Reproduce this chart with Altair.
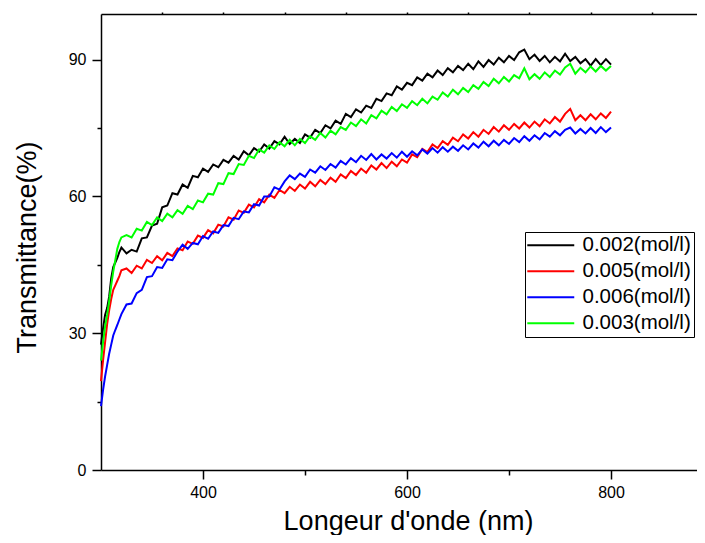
import altair as alt
import pandas as pd

wavelength = [300, 302, 304, 306, 308, 310, 312, 314, 316, 318, 320,
              325, 330, 335, 340, 345, 350, 355, 360, 365, 370, 375, 380, 385, 390, 395,
              400, 405, 410, 415, 420, 425, 430, 435, 440, 445, 450, 455, 460, 465, 470,
              475, 480, 485, 490, 495, 500, 505, 510, 515, 520, 525, 530, 535, 540, 545,
              550, 555, 560, 565, 570, 575, 580, 585, 590, 595, 600, 605, 610, 615, 620,
              625, 630, 635, 640, 645, 650, 655, 660, 665, 670, 675, 680, 685, 690, 695,
              700, 705, 710, 715, 720, 725, 730, 735, 740, 745, 750, 755, 760, 765, 770,
              775, 780, 785, 790, 795, 800]

t_0002 = [27.5, 31, 34, 35.5, 38, 42, 44.5, 45.5, 46.5, 47.8, 48.8,
          47.5, 48.3, 47.9, 50.8, 51.0, 53.6, 54.0, 57.6, 58.0, 60.7, 60.4, 62.6, 61.9, 64.5, 64.2,
          66.1, 65.4, 67.0, 66.4, 68.0, 67.4, 68.9, 68.1, 69.9, 69.0, 70.6, 69.8, 71.4, 70.5, 72.1,
          71.4, 73.1, 71.5, 72.6, 71.7, 73.6, 72.9, 74.6, 73.9, 75.6, 74.9, 76.6, 75.9, 78.1, 77.4,
          79.1, 78.4, 79.9, 79.4, 81.4, 80.9, 82.6, 82.2, 84.1, 83.4, 84.9, 84.4, 86.1, 85.4, 86.9,
          86.1, 87.6, 86.6, 88.1, 87.2, 88.6, 87.7, 89.1, 87.9, 89.6, 88.4, 89.9, 88.9, 90.4, 89.4,
          90.8, 89.9, 91.6, 92.2, 90.1, 91.1, 89.7, 90.8, 89.4, 90.6, 89.6, 91.3, 89.7, 90.6, 89.2,
          90.1, 88.7, 90.1, 88.8, 90.1, 88.9]

t_0005 = [19.5, 24, 28, 32, 35, 37.5, 39.5, 40.5, 41.5, 42.5, 43.8,
          44.2, 43.2, 44.8, 44.2, 46.1, 45.4, 46.9, 46.0, 47.6, 46.9, 48.6, 48.2, 50.1, 49.6, 51.4,
          50.9, 52.6, 51.9, 53.8, 53.4, 55.4, 54.9, 56.9, 56.4, 58.2, 57.6, 59.4, 58.7, 60.4, 59.7,
          61.4, 60.7, 62.1, 61.2, 62.6, 61.7, 63.2, 62.2, 63.6, 62.7, 64.1, 63.2, 64.8, 64.0, 65.6,
          64.7, 66.1, 65.2, 66.8, 65.9, 67.3, 66.2, 67.6, 66.6, 68.1, 67.4, 69.2, 68.6, 70.4, 69.7,
          71.4, 70.6, 72.1, 71.3, 72.9, 72.1, 73.6, 72.7, 74.1, 73.1, 74.6, 73.7, 75.2, 74.2, 75.6,
          74.6, 75.9, 74.9, 76.2, 75.1, 76.4, 75.4, 76.9, 76.0, 77.4, 76.4, 78.1, 79.2, 76.7, 77.8,
          76.7, 78.0, 76.9, 78.2, 77.2, 78.6]

t_0006 = [14, 17.5, 20.5, 23, 25.5, 27.5, 29.5, 30.7, 31.8, 33, 34.2,
          36.3, 36.5, 38.8, 39.5, 42.3, 42.5, 44.5, 44.3, 46.2, 46.0, 47.9, 49.4, 48.5, 49.8, 49.5,
          51.3, 50.7, 52.3, 52.0, 53.7, 53.5, 55.3, 55.0, 56.7, 56.5, 58.3, 58.0, 60.0, 60.0, 62.0,
          61.5, 63.3, 64.6, 63.8, 65.0, 64.3, 65.9, 65.2, 66.6, 65.8, 67.1, 66.3, 67.8, 67.0, 68.4,
          67.5, 68.9, 68.0, 69.3, 68.1, 69.2, 68.3, 69.5, 68.5, 69.8, 68.7, 69.9, 69.0, 70.3, 69.4,
          70.6, 69.6, 70.8, 69.8, 70.9, 70.0, 71.2, 70.3, 71.6, 70.7, 72.0, 71.0, 72.2, 71.2, 72.4,
          71.5, 72.8, 71.9, 73.2, 72.2, 73.4, 72.5, 73.9, 73.1, 74.3, 73.4, 74.6, 75.1, 73.8, 74.8,
          73.8, 75.0, 73.9, 75.2, 74.1, 75.1]

t_0003 = [24, 28, 31.5, 34, 37, 40.5, 43.5, 46, 48.5, 50, 51,
          51.5, 51.0, 52.9, 52.5, 54.4, 53.7, 55.4, 54.6, 56.2, 55.4, 57.0, 56.2, 57.9, 57.2, 59.1,
          58.7, 60.6, 60.4, 62.9, 62.7, 65.1, 64.9, 67.1, 66.9, 68.9, 68.4, 70.3, 69.6, 71.2, 70.4,
          71.9, 71.0, 72.4, 71.2, 72.6, 71.7, 73.2, 72.4, 73.9, 72.9, 74.4, 73.6, 75.2, 74.6, 76.2,
          75.4, 76.9, 76.0, 77.8, 77.1, 78.8, 78.0, 79.6, 78.7, 80.2, 79.4, 80.9, 80.0, 81.4, 80.4,
          81.9, 81.2, 82.8, 81.9, 83.4, 82.4, 83.8, 82.9, 84.4, 83.6, 85.1, 84.2, 85.8, 84.8, 86.2,
          85.2, 86.6, 85.9, 88.1, 85.7, 86.8, 85.8, 87.2, 86.2, 87.6, 86.7, 88.3, 89.1, 86.9, 88.2,
          87.2, 88.5, 87.4, 88.6, 87.6, 88.6]

series_labels = ["0.002(mol/l)", "0.005(mol/l)", "0.006(mol/l)", "0.003(mol/l)"]
series_colors = ["#000000", "#ff0000", "#0000ff", "#00ff00"]
series_values = [t_0002, t_0005, t_0006, t_0003]

x_ticks = [400, 500, 600, 700, 800]
y_ticks = [0, 15, 30, 45, 60, 75, 90]
top_ticks = [360, 420, 480, 540, 600, 660, 720, 780, 840]

rows = []
for lab, vals in zip(series_labels, series_values):
    for w, v in zip(wavelength, vals):
        rows.append({"wl": w, "T": v, "series": lab})
df = pd.DataFrame(rows)

FONT = "Liberation Sans"
x_scale = alt.Scale(domain=[300, 884.3], nice=False, zero=False)
y_scale = alt.Scale(domain=[0, 100], nice=False, zero=False)

lines = alt.Chart(df).mark_line(strokeWidth=2).encode(
    x=alt.X("wl:Q", scale=x_scale,
            axis=alt.Axis(values=x_ticks, title="Longeur d'onde (nm)",
                          tickSize={"condition": {"test": "datum.value % 200 === 0", "value": 9}, "value": 5},
                          labelExpr="datum.value % 200 === 0 ? datum.label : ''",
                          labelPadding=5, titleX=307, titleY=59, titleAlign="center",
                          titleBaseline="alphabetic")),
    y=alt.Y("T:Q", scale=y_scale,
            axis=alt.Axis(values=y_ticks, title="Transmittance(%)",
                          tickSize={"condition": {"test": "datum.value % 30 === 0", "value": 9}, "value": 4},
                          labelExpr="datum.value % 30 === 0 ? datum.label : ''",
                          labelPadding=6, titleX=-66, titleY=233, titleAlign="center",
                          titleBaseline="alphabetic")),
    color=alt.Color("series:N", sort=series_labels,
                    scale=alt.Scale(domain=series_labels, range=series_colors),
                    legend=alt.Legend(title=None, orient="none", legendX=424, legendY=218,
                                      symbolType="M-1.4,0H4.6", symbolSize=245, symbolStrokeWidth=2.2,
                                      labelFontSize=20.5, labelFont=FONT, labelOffset=34,
                                      strokeColor="#000000", fillColor="#ffffff", padding=3,
                                      rowPadding=5)),
)

top = alt.Chart(df).mark_line(opacity=0).encode(
    x=alt.X("wl:Q", scale=x_scale,
            axis=alt.Axis(orient="top", values=top_ticks, labels=False, title=None, tickSize=2)),
    y=alt.Y("T:Q", scale=y_scale, axis=None),
)

chart = alt.layer(lines, top).resolve_axis(x="independent", y="independent").properties(
    width=596, height=456,
    autosize=alt.AutoSizeParams(type="none"),
    padding={"left": 93, "top": 6, "right": 0, "bottom": 65},
).configure_axis(
    labelFont=FONT, labelFontSize=16, labelColor="#000000",
    titleFont=FONT, titleFontSize=27, titleFontWeight="normal", titleColor="#000000",
    domainColor="#000000", domainWidth=1.5, tickColor="#000000", tickWidth=1.5, grid=False,
).configure_legend(
    labelColor="#000000",
).configure_view(stroke=None)

chart.save("out.html", embed_options={"renderer": "svg", "actions": False})
